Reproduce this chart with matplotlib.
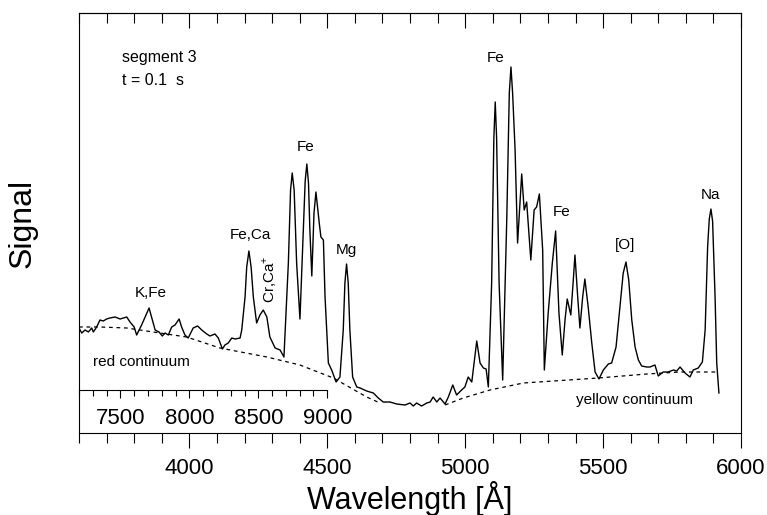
import numpy as np
import matplotlib.pyplot as plt

plt.rcParams['font.family'] = ['Liberation Sans', 'DejaVu Sans']
plt.rcParams['mathtext.fontset'] = 'custom'
plt.rcParams['mathtext.rm'] = 'Liberation Sans'

# spectrum (wavelength in Angstrom, signal in arbitrary units)
wl = [3600, 3610, 3622, 3634, 3646, 3652, 3664, 3676, 3688, 3700,
      3712, 3731, 3749, 3761, 3773, 3785, 3800, 3809, 3827, 3843,
      3854, 3866, 3876, 3890, 3902, 3912, 3924, 3936, 3948, 3963,
      3972, 3984, 3996, 4014, 4030, 4045, 4063, 4075, 4093, 4105,
      4120, 4129, 4141, 4154, 4166, 4184, 4190, 4202, 4208, 4216,
      4224, 4232, 4244, 4256, 4268, 4281, 4292, 4311, 4329, 4343,
      4359, 4367, 4373, 4380, 4389, 4401, 4413, 4420, 4426, 4432,
      4437, 4444, 4452, 4459, 4471, 4477, 4486, 4492, 4504, 4516,
      4532, 4546, 4558, 4564, 4570, 4576, 4582, 4592, 4607, 4619,
      4643, 4667, 4685, 4703, 4727, 4752, 4782, 4800, 4812, 4824,
      4842, 4861, 4873, 4884, 4897, 4909, 4927, 4939, 4955, 4969,
      4987, 4999, 5011, 5024, 5042, 5054, 5066, 5076, 5084, 5096,
      5104, 5109, 5114, 5123, 5136, 5151, 5160, 5166, 5172, 5181,
      5190, 5205, 5214, 5223, 5238, 5250, 5259, 5269, 5281, 5287,
      5301, 5316, 5328, 5340, 5352, 5362, 5370, 5383, 5392, 5398,
      5408, 5416, 5426, 5434, 5446, 5459, 5471, 5485, 5501, 5519,
      5531, 5547, 5561, 5573, 5583, 5593, 5604, 5616, 5628, 5640,
      5658, 5670, 5688, 5700, 5718, 5736, 5755, 5767, 5779, 5797,
      5815, 5827, 5845, 5860, 5870, 5879, 5885, 5891, 5897, 5906,
      5912, 5920]
signal = [105, 100, 103, 101, 105, 101, 106, 113, 112, 114,
          115, 116, 114, 115, 116, 111, 106, 98, 108, 118,
          125, 113, 103, 101, 97, 100, 98, 106, 108, 114,
          106, 98, 95, 105, 107, 103, 99, 97, 99, 95,
          84, 88, 90, 95, 94, 95, 103, 136, 166, 182,
          166, 136, 110, 118, 123, 116, 96, 85, 83, 76,
          170, 243, 260, 243, 170, 114, 203, 252, 269, 250,
          203, 157, 220, 241, 210, 196, 193, 136, 70, 63,
          51, 56, 103, 150, 169, 150, 103, 56, 46, 45,
          42, 40, 35, 31, 31, 29, 28, 30, 27, 30,
          27, 30, 31, 36, 31, 35, 29, 36, 48, 38,
          43, 46, 56, 51, 92, 70, 65, 64, 46, 150,
          295, 331, 295, 150, 53, 216, 340, 366, 340, 283,
          190, 259, 223, 231, 173, 223, 226, 239, 183, 63,
          120, 170, 202, 120, 78, 113, 134, 118, 153, 178,
          136, 105, 136, 154, 126, 90, 61, 54, 63, 69,
          70, 86, 126, 160, 171, 153, 113, 86, 73, 67,
          66, 66, 68, 57, 61, 61, 63, 62, 66, 60,
          56, 63, 65, 71, 103, 186, 214, 224, 212, 136,
          70, 40]

# continua
red_wl = [3600, 3676, 3773, 3869, 3990, 4111, 4281, 4401, 4522, 4643, 4691]
red_sig = [106, 106, 105, 101, 96, 85, 76, 68, 55, 36, 30]
yel_wl = [4927, 4993, 5090, 5211, 5320, 5483, 5658, 5779, 5918]
yel_sig = [28, 35, 43, 50, 52, 55, 59, 61, 61]

# line labels: text, wavelength, signal
labels = [('Fe', 4423, 282), ('Fe,Ca', 4220, 194), ('Mg', 4570, 179),
          ('K,Fe', 3860, 136), ('Fe', 5111, 371), ('Fe', 5349, 217),
          ('[O]', 5580, 184), ('Na', 5889, 234)]

fig = plt.figure(figsize=(7.67, 5.15), dpi=100)
ax = fig.add_axes([79/767, 82/515, 662/767, 420/515])

ax.plot(wl, signal, color='black', lw=1.0)
ax.plot(red_wl, red_sig, color='black', lw=0.9, linestyle=(0, (3, 3)))
ax.plot(yel_wl, yel_sig, color='black', lw=0.9, linestyle=(0, (3, 3)))

ax.set_xlim(3600, 6000)
ax.set_ylim(0, 420)

# bottom axis
ax.set_xticks(np.arange(4000, 6001, 500))
ax.set_xticks(np.arange(3600, 6001, 100), minor=True)
ax.tick_params(axis='x', which='both', direction='out', top=False, width=0.8,
               labelsize=16, pad=7)
ax.tick_params(axis='x', which='major', length=10.8)
ax.tick_params(axis='x', which='minor', length=7.2)
ax.set_yticks([])
for s in ax.spines.values():
    s.set_linewidth(0.8)

# top axis, ticks pointing in
top = ax.secondary_xaxis('top')
top.set_xticks(np.arange(4000, 6001, 500))
top.set_xticks(np.arange(3600, 6001, 100), minor=True)
top.tick_params(which='both', direction='in', labeltop=False, width=0.8)
top.tick_params(which='major', length=10.8)
top.tick_params(which='minor', length=7.2)
top.spines['top'].set_linewidth(0.8)

# second order scale (red part)
sec = ax.secondary_xaxis(43/420, functions=(lambda x: 2*x, lambda x: x/2))
sec.set_xticks([7500, 8000, 8500, 9000])
sec.set_xticks(np.arange(7200, 9001, 100), minor=True)
sec.tick_params(which='both', direction='out', width=0.8, labelsize=16, pad=7)
sec.tick_params(which='major', length=6)
sec.tick_params(which='minor', length=4.5)
sec.spines['bottom'].set_bounds(7200, 9000)
sec.spines['bottom'].set_linewidth(0.8)

ax.set_xlabel('Wavelength [Å]', fontsize=22)
ax.xaxis.set_label_coords(0.5, -66/420)
ax.xaxis.label.set_va('center')
ax.set_ylabel('Signal', fontsize=23)
ax.yaxis.set_label_coords(-56/662, 0.5)
ax.yaxis.label.set_va('center')

for txt, x, y in labels:
    ax.text(x, y, txt, fontsize=11, ha='center', va='baseline')
ax.text(4292, 154, r'Cr,Ca$^{+}$', fontsize=11, rotation=90,
        ha='center', va='center')
ax.text(3650, 67, 'red continuum', fontsize=11, ha='left', va='baseline')
ax.text(5613, 29, 'yellow continuum', fontsize=11, ha='center', va='baseline')
ax.text(3755, 371, 'segment 3', fontsize=11.5, ha='left', va='baseline')
ax.text(3755, 348, 't = 0.1  s', fontsize=11.5, ha='left', va='baseline')

fig.savefig('out.png', dpi=100)
